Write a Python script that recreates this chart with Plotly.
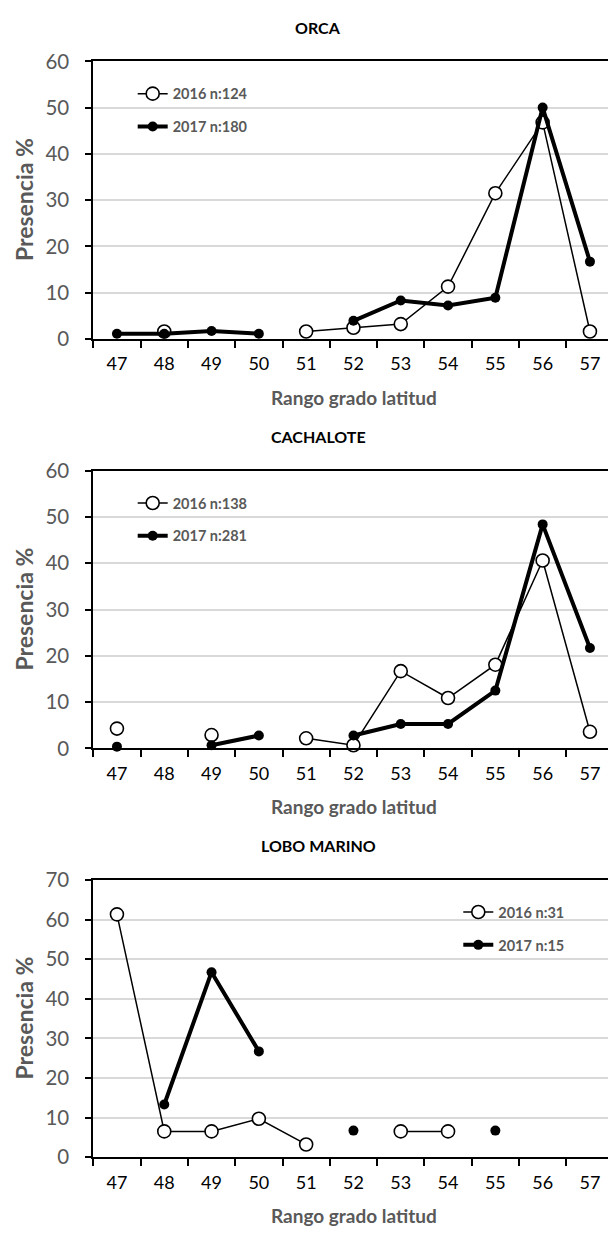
import plotly.graph_objects as go

# Latitude bands (degrees south) used as categories on every panel
latitudes = ["47", "48", "49", "50", "51", "52", "53", "54", "55", "56", "57"]

# Presence (% of sightings) per latitude band; None = no sightings in that band
orca_2016 = [None, 1.6, None, None, 1.6, 2.4, 3.2, 11.3, 31.5, 46.8, 1.6]
orca_2017 = [1.1, 1.1, 1.7, 1.1, None, 3.9, 8.3, 7.2, 8.9, 50.0, 16.7]

cachalote_2016 = [4.3, None, 2.9, None, 2.2, 0.7, 16.7, 10.9, 18.1, 40.6, 3.6]
cachalote_2017 = [0.4, None, 0.7, 2.8, None, 2.8, 5.3, 5.3, 12.5, 48.4, 21.7]

lobo_2016 = [61.3, 6.5, 6.5, 9.7, 3.2, None, 6.5, 6.5, None, None, None]
lobo_2017 = [None, 13.3, 46.7, 26.7, None, 6.7, None, None, 6.7, None, None]

panel_titles = ["ORCA", "CACHALOTE", "LOBO MARINO"]
legend_names = [
    ("2016 n:124", "2017 n:180"),
    ("2016 n:138", "2017 n:281"),
    ("2016 n:31", "2017 n:15"),
]
y_max = [60, 60, 70]

W, H = 608, 1241
FONT = "Lato"
GREY = "#595959"

# pixel geometry of each panel's plotting area (top, bottom)
panels_px = [(49.3, 332.3), (466.7, 750.0), (884.0, 1166.7)]
x_left_px = 93.3
cat_px = 47.3


def py(p):
    return 1 - p / H


def px(p):
    return p / W


series = [
    (orca_2016, orca_2017),
    (cachalote_2016, cachalote_2017),
    (lobo_2016, lobo_2017),
]

fig = go.Figure()

for i, (s16, s17) in enumerate(series):
    sfx = "" if i == 0 else str(i + 1)
    leg = "legend" if i == 0 else f"legend{i + 1}"
    fig.add_trace(go.Scatter(
        x=latitudes, y=s16, name=legend_names[i][0],
        mode="lines+markers", xaxis="x" + sfx, yaxis="y" + sfx,
        line=dict(color="black", width=1.5),
        marker=dict(symbol="circle", size=13, color="white",
                    line=dict(color="black", width=1.6)),
        legend=leg, legendgroup=f"a{i}", cliponaxis=False,
    ))
    fig.add_trace(go.Scatter(
        x=latitudes, y=s17, name=legend_names[i][1],
        mode="lines+markers", xaxis="x" + sfx, yaxis="y" + sfx,
        line=dict(color="black", width=4),
        marker=dict(symbol="circle", size=10, color="black"),
        legend=leg, legendgroup=f"b{i}", cliponaxis=False,
    ))

x_range = [-0.5, -0.5 + (W - x_left_px) / cat_px]
layout = dict(
    width=W, height=H,
    margin=dict(l=0, r=0, t=0, b=0),
    paper_bgcolor="white", plot_bgcolor="white",
    font=dict(family=FONT, color=GREY),
    showlegend=True,
)

annotations = []
shapes = []

# legend placement (left edge px, top px) and white backing box (x0, x1, y0, y1)
legend_pos = [(132.7, 66.0), (132.7, 483.4), (458.3, 900.5)]
legend_box = [(113.6, 277.0, 64.0, 132.0), (113.6, 277.0, 481.0, 549.0),
              (433.5, 598.3, 900.0, 970.0)]

for i in range(3):
    sfx = "" if i == 0 else str(i + 1)
    top, bot = panels_px[i]
    layout["xaxis" + sfx] = dict(
        domain=[px(x_left_px), 1.0],
        anchor="y" + sfx,
        type="category",
        range=x_range,
        tickson="boundaries",
        ticks="outside", ticklen=7, tickwidth=2, tickcolor="black",
        showline=True, linecolor="black", linewidth=2, mirror=True,
        showgrid=False, zeroline=False,
        tickfont=dict(family=FONT, size=18, color="black"),
        ticklabelstandoff=8,
        fixedrange=True,
    )
    layout["yaxis" + sfx] = dict(
        domain=[py(bot), py(top)],
        anchor="x" + sfx,
        range=[0, y_max[i]],
        dtick=10,
        ticks="outside", ticklen=6, tickwidth=2, tickcolor="black",
        showline=True, linecolor="black", linewidth=2,
        showgrid=True, gridcolor="#d9d9d9", gridwidth=1.5,
        zeroline=False,
        tickfont=dict(family=FONT, size=20.5, color=GREY),
        ticklabelstandoff=12,
        fixedrange=True,
    )
    leg = "legend" if i == 0 else f"legend{i + 1}"
    lx, ly = legend_pos[i]
    layout[leg] = dict(
        x=px(lx), y=py(ly), xanchor="left", yanchor="top",
        bgcolor="rgba(0,0,0,0)", borderwidth=0,
        font=dict(family=FONT, size=14.5, color=GREY, weight="bold"),
        tracegroupgap=11,
    )
    bx0, bx1, by0, by1 = legend_box[i]
    shapes.append(dict(
        type="rect", xref="paper", yref="paper", layer="between",
        x0=px(bx0), x1=px(bx1), y0=py(by1), y1=py(by0),
        fillcolor="white", line=dict(width=0),
    ))

    # panel title
    title_y = [15.0, 431.7, 849.3][i]
    annotations.append(dict(
        text=f"<b>{panel_titles[i]}</b>", xref="paper", yref="paper",
        x=px(318), y=py(title_y), xanchor="center", yanchor="middle",
        showarrow=False, font=dict(family=FONT, size=16, color="black"),
    ))
    # x-axis title
    annotations.append(dict(
        text="<b>Rango grado latitud</b>", xref="paper", yref="paper",
        x=px(353.5), y=py(bot + 59.5), xanchor="center", yanchor="middle",
        showarrow=False, font=dict(family=FONT, size=19, color=GREY),
    ))
    # y-axis title
    annotations.append(dict(
        text="<b>Presencia %</b>", xref="paper", yref="paper",
        x=px(24), y=py((top + bot) / 2), xanchor="center", yanchor="middle",
        textangle=-90, showarrow=False,
        font=dict(family=FONT, size=23, color=GREY),
    ))

layout["annotations"] = annotations
layout["shapes"] = shapes
fig.update_layout(**layout)

fig.write_html("out.html")
